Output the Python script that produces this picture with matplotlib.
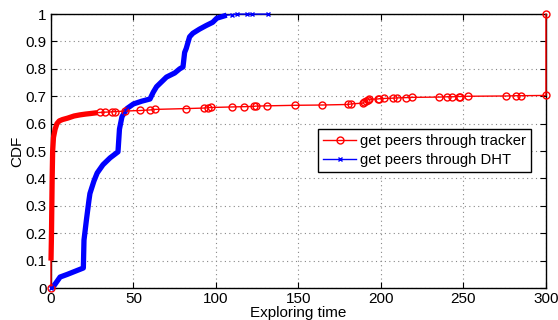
import matplotlib
matplotlib.use('Agg')
import matplotlib.pyplot as plt
import numpy as np

# CDF of exploring time
tracker_x = [0, 0, 0.3, 0.5, 0.7, 1.0, 1.5, 2.5, 3.6, 5, 7, 10, 14, 17.5, 21, 24, 28, 30,
             33, 37, 39, 45, 54, 60, 63, 82, 93, 95, 97, 110, 117, 123, 124, 131, 148,
             164, 180, 182, 189, 190, 191, 192, 193, 198, 199, 202, 207, 210, 215, 219,
             235, 240, 243, 247, 248, 253, 276, 282, 285, 300, 300]
tracker_y = [0, 0.1, 0.2, 0.3, 0.4, 0.5, 0.55, 0.58, 0.60, 0.61, 0.615, 0.62, 0.628, 0.632,
             0.635, 0.637, 0.64, 0.641, 0.642, 0.643, 0.644, 0.646, 0.648, 0.65, 0.652,
             0.655, 0.657, 0.658, 0.659, 0.661, 0.662, 0.663, 0.664, 0.665, 0.667, 0.668,
             0.67, 0.672, 0.675, 0.68, 0.684, 0.687, 0.689, 0.69, 0.691, 0.692, 0.693,
             0.694, 0.695, 0.696, 0.697, 0.698, 0.698, 0.699, 0.699, 0.70, 0.701, 0.702,
             0.702, 0.703, 1.0]

dht_x = [0, 2, 5.5, 10, 15, 19.6, 20, 21.5, 23, 23.6, 26, 28, 31.5, 35.8, 40.6, 41.5, 43,
         46, 50, 55, 60, 62, 64, 70, 75, 78, 80, 81, 82, 84, 86, 90, 94, 98, 100.5, 106.5,
         110, 113, 119, 122, 131.5]
dht_y = [0, 0.01, 0.04, 0.05, 0.062, 0.073, 0.175, 0.25, 0.32, 0.345, 0.39, 0.42, 0.45,
         0.475, 0.497, 0.58, 0.625, 0.655, 0.672, 0.682, 0.69, 0.715, 0.735, 0.77, 0.785,
         0.80, 0.807, 0.86, 0.875, 0.917, 0.93, 0.945, 0.958, 0.97, 0.985, 0.996, 0.998,
         1.0, 1.0, 1.0, 1.0]

# samples are so dense below these x values that the markers merge into a thick band
tracker_dense_max = 28
dht_dense_max = 108

plt.rcParams['font.family'] = ['Liberation Sans', 'DejaVu Sans']

fig = plt.figure(figsize=(5.58, 3.2), dpi=100)
ax = fig.add_axes([0.0914, 0.1, 0.887, 0.856])

tx = np.array(tracker_x)
ty = np.array(tracker_y)
dx = np.array(dht_x)
dy = np.array(dht_y)

# thick bands where markers pile up
tm = (tx <= tracker_dense_max) & (ty >= 0.1)
ax.plot(tx[tm], ty[tm], color='red', lw=3.8, solid_capstyle='butt', zorder=3, clip_on=False)
dm = dx <= dht_dense_max
ax.plot(dx[dm], dy[dm], color='blue', lw=3.8, solid_capstyle='butt', zorder=3, clip_on=False)

# individual markers only where they are still distinguishable
t_every = [0] + list(np.where(~tm)[0][1:])
d_every = [0] + list(np.where(~dm)[0])
ax.plot(tx, ty, color='red', lw=1, marker='o', ms=5, mfc='none', mew=1,
        markevery=t_every, label='get peers through tracker', zorder=4, clip_on=False)
ax.plot(dx, dy, color='blue', lw=1, marker='x', ms=3, mew=1,
        markevery=d_every, label='get peers through DHT', zorder=4, clip_on=False)

ax.set_xlim(0, 300)
ax.set_ylim(0, 1)
ax.set_xticks(np.arange(0, 301, 50))
ax.set_yticks(np.arange(0, 1.01, 0.1))
ax.set_yticklabels(['0', '0.1', '0.2', '0.3', '0.4', '0.5', '0.6', '0.7', '0.8', '0.9', '1'])
ax.tick_params(direction='in', top=True, right=True, length=4, width=0.8, labelsize=11, pad=3)
ax.grid(True, color='#888888', linestyle=(0, (1, 3)), lw=0.8)
for s in ax.spines.values():
    s.set_linewidth(1)

ax.set_xlabel('Exploring time', fontsize=11, labelpad=0)
ax.set_ylabel('CDF', fontsize=11, labelpad=1)

leg = ax.legend(loc='upper left', bbox_to_anchor=(0.54, 0.58), fontsize=10.6,
                frameon=True, fancybox=False, edgecolor='black', framealpha=1,
                borderpad=0.35, labelspacing=0.3, handlelength=2.2, handletextpad=0.3,
                borderaxespad=0)
leg.get_frame().set_linewidth(1)

fig.savefig('out.png', dpi=100)
